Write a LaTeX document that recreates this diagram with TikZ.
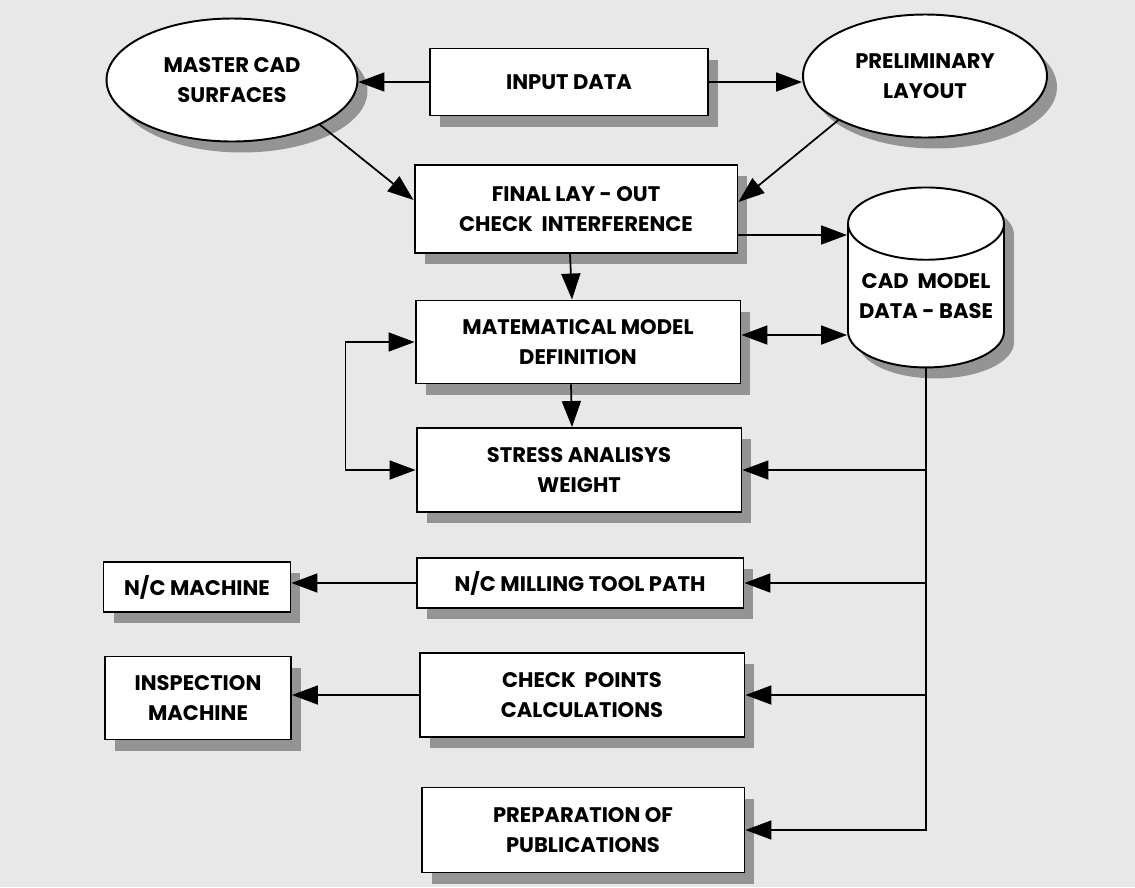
\documentclass[tikz,border=0pt]{standalone}
\usepackage{fontspec}
\setmainfont{Poppins}
\usetikzlibrary{arrows.meta,shapes.geometric,shadows}

\begin{document}
\begin{tikzpicture}[x=0.02cm,y=-0.02cm]

\fill[black!9] (0,0) rectangle (1135,887);
\useasboundingbox (0,0) rectangle (1135,887);

\tikzstyle{every node}=[draw,line width=1.1pt,fill=white,align=center,inner sep=0pt,
  font=\fontsize{12}{17}\selectfont\bfseries,
  drop shadow={shadow xshift=0.2cm,shadow yshift=-0.22cm,fill=black!42,opacity=1}];
\tikzstyle{oval}=[ellipse,minimum height=2.46cm];
\tikzstyle{db}=[cylinder,shape border rotate=90,aspect=0.54,minimum width=3.12cm,minimum height=3.6cm];
\tikzstyle{link}=[line width=1pt,-{Triangle[length=0.52cm,width=0.38cm]}];
\tikzstyle{both}=[line width=1pt,{Triangle[length=0.52cm,width=0.38cm]}-{Triangle[length=0.52cm,width=0.38cm]}];

% Top row
\node[oval,minimum width=5.02cm] (master) at (232,80) {MASTER CAD\\SURFACES};
\node[minimum width=5.56cm,minimum height=1.34cm] (input) at (569,82) {INPUT DATA};
\node[oval,minimum width=4.88cm] (prelim) at (925,76) {PRELIMINARY\\LAYOUT};

% Main column
\node[minimum width=6.46cm,minimum height=1.76cm] (final) at (576,209) {FINAL LAY - OUT\\CHECK~~INTERFERENCE};
\node[db] (cyl) at (926,296) {CAD~ MODEL\\DATA - BASE};
\node[minimum width=6.5cm,minimum height=1.66cm] (mat) at (578,342) {MATEMATICAL MODEL\\DEFINITION};
\node[minimum width=6.5cm,minimum height=1.68cm] (stress) at (579,470) {STRESS ANALISYS\\WEIGHT};
\node[minimum width=6.54cm,minimum height=1cm] (mill) at (580,583) {N/C MILLING TOOL PATH};
\node[minimum width=6.5cm,minimum height=1.68cm] (check) at (582,695) {CHECK~~POINTS\\CALCULATIONS};
\node[minimum width=6.46cm,minimum height=1.7cm] (prep) at (583,830) {PREPARATION OF\\PUBLICATIONS};

% Machines
\node[minimum width=3.74cm,minimum height=1cm] (ncm) at (197,587) {N/C MACHINE};
\node[minimum width=3.72cm,minimum height=1.66cm] (insp) at (198,698) {INSPECTION\\MACHINE};

% Links between the nodes
\draw[link] (input.west) -- (input.west -| master.east);
\draw[link] (input.east) -- (input.east -| prelim.west);
\draw[link] (master.-27) -- ([yshift=0.18cm]final.west);
\draw[link] (prelim.-153) -- ([yshift=0.14cm]final.east);
\draw[link] ([yshift=-0.52cm]final.east) -- ([yshift=-0.52cm]final.east -| cyl.west);
\draw[link] ([xshift=-0.12cm]final.south) -- ([xshift=-0.12cm]mat.north);
\draw[both] ([yshift=0.14cm]mat.east) -- ([yshift=0.14cm]mat.east -| cyl.west);
\draw[both] (mat.west) -- ++(-69,0) |- (stress.west);
\draw[link] ([xshift=-0.14cm]mat.south) -- ([xshift=-0.14cm]stress.north);

% Data-base feeds
\draw[link] (cyl.south) |- (stress.east);
\draw[link] (cyl.south) |- (mill.east);
\draw[link] (cyl.south) |- (check.east);
\draw[link] (cyl.south) |- (prep.east);

% To the machines
\draw[link] (mill.west) -- (mill.west -| ncm.east);
\draw[link] (check.west) -- (check.west -| insp.east);

\end{tikzpicture}
\end{document}
